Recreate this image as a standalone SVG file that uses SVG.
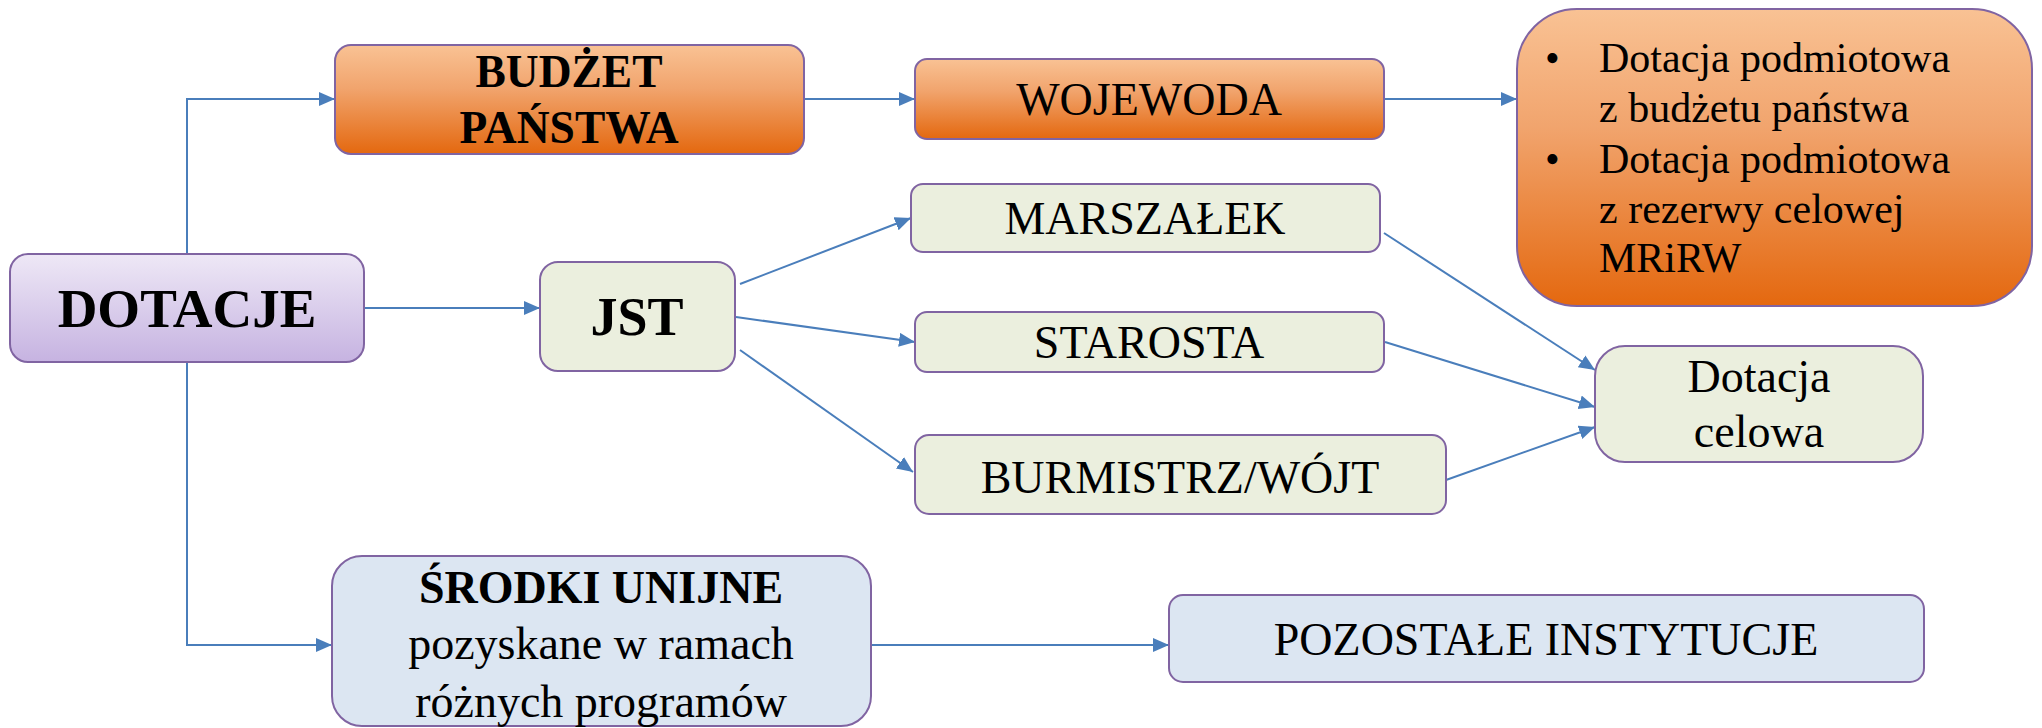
<svg xmlns="http://www.w3.org/2000/svg" width="2042" height="728" viewBox="0 0 2042 728">
<defs>
<linearGradient id="gOrange" x1="0" y1="0" x2="0" y2="1">
<stop offset="0" stop-color="#F9C294"/>
<stop offset="0.4" stop-color="#F1A46D"/>
<stop offset="1" stop-color="#E4680F"/>
</linearGradient>
<linearGradient id="gPurple" x1="0" y1="0" x2="0" y2="1">
<stop offset="0" stop-color="#EEE8F6"/>
<stop offset="1" stop-color="#C6B3E1"/>
</linearGradient>
<marker id="arr" markerUnits="userSpaceOnUse" markerWidth="18" markerHeight="16" refX="16" refY="7" orient="auto">
<path d="M0,0 L16,7 L0,14 z" fill="#4A7EBB"/>
</marker>
<style>
.box{stroke:#8064A2;stroke-width:2}
.orange{fill:url(#gOrange)}
.purple{fill:url(#gPurple)}
.green{fill:#EBEFDE}
.blue{fill:#DCE6F2}
text{font-family:'Liberation Serif','Times New Roman',Times,serif}
.t{fill:#000;text-anchor:middle;font-size:46px}
.b{font-weight:bold}
.l{text-anchor:start;font-size:42px}
.c{fill:none;stroke:#4A7EBB;stroke-width:2;marker-end:url(#arr)}
</style>
</defs>
<g id="connectors">
<path class="c" d="M187,254 V99 H335"/>
<path class="c" d="M364,308 H540"/>
<path class="c" d="M187,362 V645 H332"/>
<path class="c" d="M804,99 H915"/>
<path class="c" d="M1384,99 H1517"/>
<path class="c" d="M740,284 L911,218"/>
<path class="c" d="M736,317 L915,342"/>
<path class="c" d="M740,350 L913,472"/>
<path class="c" d="M1384,233 L1595,370"/>
<path class="c" d="M1385,342 L1595,407"/>
<path class="c" d="M1446,480 L1595,427"/>
<path class="c" d="M871,645 H1169"/>
</g>
<g id="dotacje">
<rect class="box purple" x="10" y="254" width="354" height="108" rx="18"/>
<text class="t b" x="187" y="327" style="font-size:55px">DOTACJE</text>
</g>
<g id="budzet">
<rect class="box orange" x="335" y="45" width="469" height="109" rx="16"/>
<text class="t b" x="569" y="87" style="font-size:45.5px">BUDŻET</text>
<text class="t b" x="569" y="143" style="font-size:45.5px">PAŃSTWA</text>
</g>
<g id="jst">
<rect class="box green" x="540" y="262" width="195" height="109" rx="18"/>
<text class="t b" x="637" y="335" style="font-size:54px">JST</text>
</g>
<g id="wojewoda">
<rect class="box orange" x="915" y="59" width="469" height="80" rx="12"/>
<text class="t" x="1149" y="115">WOJEWODA</text>
</g>
<g id="podmiotowa">
<rect class="box orange" x="1517" y="9" width="515" height="297" rx="60"/>
<text class="t l" x="1545" y="72">•</text>
<text class="t l" x="1599" y="72">Dotacja podmiotowa</text>
<text class="t l" x="1599" y="122">z budżetu państwa</text>
<text class="t l" x="1545" y="173">•</text>
<text class="t l" x="1599" y="173">Dotacja podmiotowa</text>
<text class="t l" x="1599" y="223">z rezerwy celowej</text>
<text class="t l" x="1599" y="272">MRiRW</text>
</g>
<g id="marszalek">
<rect class="box green" x="911" y="184" width="469" height="68" rx="12"/>
<text class="t" x="1145" y="234">MARSZAŁEK</text>
</g>
<g id="starosta">
<rect class="box green" x="915" y="312" width="469" height="60" rx="12"/>
<text class="t" x="1149" y="358">STAROSTA</text>
</g>
<g id="burmistrz">
<rect class="box green" x="915" y="435" width="531" height="79" rx="14"/>
<text class="t" x="1180" y="493">BURMISTRZ/WÓJT</text>
</g>
<g id="celowa">
<rect class="box green" x="1595" y="346" width="328" height="116" rx="30"/>
<text class="t" x="1759" y="392">Dotacja</text>
<text class="t" x="1759" y="447">celowa</text>
</g>
<g id="srodki">
<rect class="box blue" x="332" y="556" width="539" height="170" rx="30"/>
<text class="t b" x="601" y="603" style="font-size:46px">ŚRODKI UNIJNE</text>
<text class="t" x="601" y="659">pozyskane w ramach</text>
<text class="t" x="601" y="717">różnych programów</text>
</g>
<g id="pozostale">
<rect class="box blue" x="1169" y="595" width="755" height="87" rx="14"/>
<text class="t" x="1546" y="655">POZOSTAŁE INSTYTUCJE</text>
</g>
</svg>
